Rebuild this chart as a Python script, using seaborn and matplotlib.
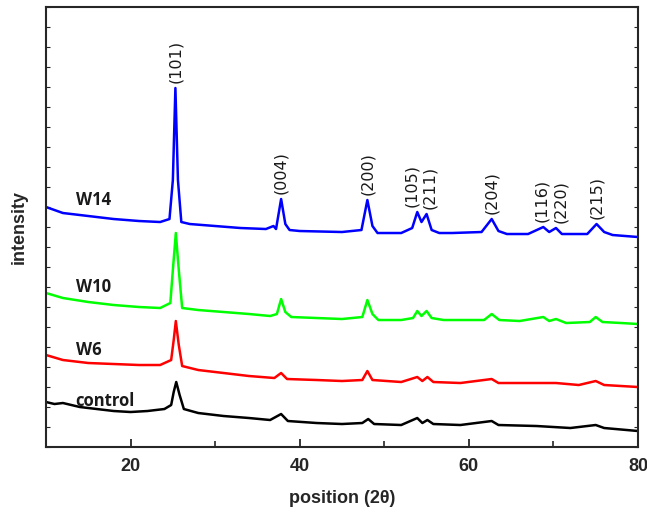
import numpy as np
import pandas as pd
import matplotlib
matplotlib.use("Agg")
import matplotlib.pyplot as plt
from matplotlib.ticker import MultipleLocator, NullFormatter
import seaborn as sns

# ------------------------------------------------------------------
# Data (2-theta, intensity in arbitrary units)
# ------------------------------------------------------------------
w14_x = [10, 12, 15, 18, 21, 23.5, 24.6, 25.0, 25.3, 25.6, 26.0, 27, 30, 33, 36,
         36.9, 37.2, 37.8, 38.3, 38.8, 40, 45, 47.3, 48.0, 48.6, 49.2, 50, 52,
         53.3, 53.9, 54.4, 55.0, 55.6, 56.5, 58, 61.5, 62.7, 63.5, 64.5, 67,
         68.8, 69.5, 70.3, 71, 74, 75.1, 76, 77, 80]
w14_y = [240, 234, 231, 228, 226, 225, 228, 267, 359, 267, 225, 223, 221, 219, 218,
         221, 218, 248, 223, 217, 216, 215, 217, 247, 221, 214, 214, 214,
         219, 235, 225, 233, 217, 214, 214, 215, 228, 216, 213, 213,
         220, 215, 219, 213, 213, 223, 215, 212, 210]

w10_x = [10, 12, 15, 18, 21, 23.5, 24.7, 25.0, 25.35, 25.7, 26.1, 28, 31, 34, 36.5,
         37.3, 37.8, 38.3, 39, 42, 45, 47.4, 48.0, 48.6, 49.3, 52, 53.4, 53.9,
         54.4, 55.0, 55.6, 57, 61.8, 62.7, 63.6, 66, 68.8, 69.5, 70.3, 71.5,
         74.3, 75.0, 75.8, 78, 80]
w10_y = [154, 149, 145, 142, 140, 139, 144, 177, 214, 177, 139, 137, 135, 133, 131,
         133, 148, 135, 130, 129, 128, 130, 147, 133, 127, 127, 129, 136,
         131, 136, 129, 127, 127, 133, 127, 126, 130, 126, 128, 124,
         125, 130, 125, 124, 123]

w6_x = [10, 12, 15, 18, 21, 23.5, 24.8, 25.1, 25.35, 25.7, 26.1, 28, 31, 34, 37,
        37.8, 38.5, 42, 45, 47.4, 48.0, 48.6, 52, 53.9, 54.5, 55.1, 55.8, 59,
        62.7, 63.5, 68.8, 70.3, 73, 75.0, 76, 80]
w6_y = [92, 87, 84, 83, 82, 82, 87, 107, 126, 102, 81, 77, 74, 71, 69,
        74, 68, 67, 66, 67, 76, 67, 65, 70, 66, 70, 65, 64,
        68, 64, 64, 64, 62, 66, 62, 60]

ctrl_x = [10, 11, 12, 14, 16, 18, 20, 22, 24, 24.8, 25.1, 25.4, 25.8, 26.3, 28,
          31, 34, 36.5, 37.8, 38.6, 42, 45, 47.4, 48.1, 48.8, 52, 53.9, 54.5,
          55.1, 55.8, 59, 62.7, 63.5, 68, 72, 75, 76, 80]
ctrl_y = [45, 43, 44, 40, 38, 36, 35, 36, 38, 42, 55, 65, 52, 38, 34,
          31, 29, 27, 33, 26, 24, 23, 24, 28, 23, 22, 29, 24,
          27, 23, 22, 26, 22, 21, 19, 22, 19, 16]

samples = ["W14", "W10", "W6", "control"]
colors = ["#0000ff", "#00ff00", "#ff0000", "#000000"]
label_y = [247, 160, 97, 46]

peaks = [25.3, 37.8, 48.0, 53.9, 55.0, 62.7, 68.8, 70.3, 75.1]
peak_labels = ["(101)", "(004)", "(200)", "(105)", "(211)", "(204)",
               "(116)", "(220)", "(215)"]
# small sideways nudges so the crowded labels sit side by side
label_dx = [0, 0, 0, -0.65, 0.35, 0, -0.25, 0.55, 0]

frames = []
for name, xs, ys in zip(samples, [w14_x, w10_x, w6_x, ctrl_x],
                        [w14_y, w10_y, w6_y, ctrl_y]):
    frames.append(pd.DataFrame({"two_theta": xs, "intensity": ys, "sample": name}))
df = pd.concat(frames, ignore_index=True)

# ------------------------------------------------------------------
# Plot
# ------------------------------------------------------------------
sns.set_style("ticks")
plt.rcParams["font.family"] = ["Liberation Sans", "DejaVu Sans"]

fig = plt.figure(figsize=(6.47, 5.16), dpi=100)
ax = fig.add_axes([0.0711, 0.1337, 0.915, 0.8527])

sns.lineplot(data=df, x="two_theta", y="intensity", hue="sample",
             hue_order=samples, palette=colors, estimator=None, sort=False,
             linewidth=1.8, legend=False, ax=ax)

for name, ly in zip(samples, label_y):
    ax.text(13.5, ly, name, fontsize=12, fontweight="bold",
            family=["Open Sans", "DejaVu Sans"], color="#1a1a1a",
            ha="left", va="center")

for p, lab, dx in zip(peaks, peak_labels, label_dx):
    base = np.interp(p, w14_x, w14_y)
    ax.text(p + dx, base + 5, lab, rotation=90, ha="center", va="bottom",
            fontsize=11.5, family=["DejaVu Sans"], color="#1a1a1a")

ax.set_xlim(10, 80)
ax.set_ylim(0, 440)
ax.xaxis.set_major_locator(MultipleLocator(20))
ax.xaxis.set_minor_locator(MultipleLocator(10))
ax.yaxis.set_major_locator(MultipleLocator(20))
ax.yaxis.set_major_formatter(NullFormatter())
ax.tick_params(axis="x", which="major", direction="in", length=6, width=1.3,
               labelsize=13, pad=8)
ax.tick_params(axis="x", which="minor", direction="in", length=4, width=1.2)
ax.tick_params(axis="y", which="major", direction="in", length=3, width=0.8,
               left=True, right=True)
for lbl in ax.get_xticklabels():
    lbl.set_fontweight("bold")
for s in ax.spines.values():
    s.set_visible(True)
    s.set_linewidth(1.5)

ax.set_xlabel("position (2θ)", fontsize=13, fontweight="bold", labelpad=11)
ax.set_ylabel("intensity", fontsize=13, fontweight="bold", labelpad=10)

fig.savefig("out.png", dpi=100)
